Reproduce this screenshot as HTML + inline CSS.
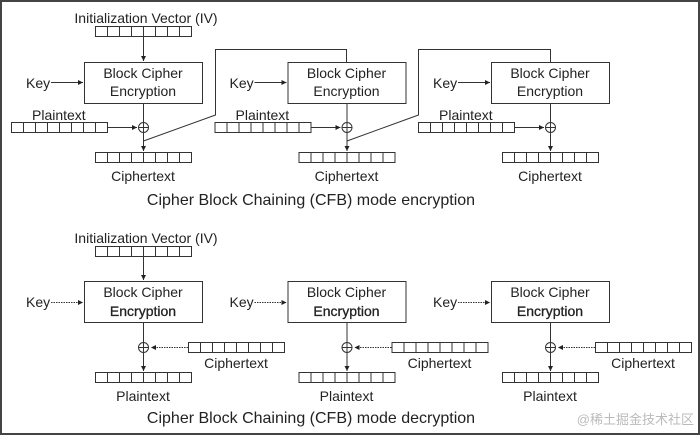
<!DOCTYPE html>
<html><head><meta charset="utf-8"><style>
html,body{margin:0;padding:0;background:#fff}
svg{display:block}
text{font-family:"Liberation Sans","DejaVu Sans",sans-serif;fill:#222}
</style></head><body>
<svg width="700" height="435" viewBox="0 0 700 435" xmlns="http://www.w3.org/2000/svg">
<defs>
<g id="reg"><rect x="0.5" y="0.5" width="96" height="10" fill="#fff" stroke="#333" stroke-width="1"/>
<path d="M12.5 0.5V10.5M24.5 0.5V10.5M36.5 0.5V10.5M48.5 0.5V10.5M60.5 0.5V10.5M72.5 0.5V10.5M84.5 0.5V10.5" stroke="#333" stroke-width="1"/></g>
<marker id="ah" markerWidth="6" markerHeight="6" refX="5" refY="3" orient="auto" markerUnits="userSpaceOnUse"><path d="M0,0.5 L5,3 L0,5.5z" fill="#222"/></marker>
<g id="xor"><circle r="5" fill="#fff" stroke="#333"/><path d="M-5 0H5M0 -5V5" stroke="#333"/></g>
</defs>
<rect x="1" y="1" width="698" height="433" fill="none" stroke="#444" stroke-width="2"/>

<!-- ENCRYPTION -->
<text x="146" y="23" font-size="14" text-anchor="middle">Initialization Vector (IV)</text>
<use href="#reg" x="95" y="26"/>
<line x1="143.5" y1="37" x2="143.5" y2="61" stroke="#333" marker-end="url(#ah)"/>
<g id="encstage">
<rect x="84.5" y="62.5" width="118" height="41" fill="#fff" stroke="#333"/>
<text x="143" y="78" font-size="14" text-anchor="middle">Block Cipher</text>
<text x="143" y="96" font-size="14" text-anchor="middle">Encryption</text>
<text x="26" y="88" font-size="14">Key</text>
<line x1="51" y1="82.5" x2="83" y2="82.5" stroke="#333" marker-end="url(#ah)"/>
<text x="32" y="120" font-size="14">Plaintext</text>
<use href="#reg" x="11" y="122"/>
<line x1="107" y1="127.5" x2="137" y2="127.5" stroke="#333" marker-end="url(#ah)"/>
<line x1="143.5" y1="104" x2="143.5" y2="151" stroke="#333" marker-end="url(#ah)"/>
<use href="#xor" x="143.5" y="127.5"/>
<use href="#reg" x="95" y="152"/>
<text x="143" y="181" font-size="14" text-anchor="middle">Ciphertext</text>
</g>
<use href="#encstage" x="203.5"/>
<use href="#encstage" x="407"/>
<polyline points="143.5,141 215.5,115 215.5,49.5 346.5,49.5 346.5,62" fill="none" stroke="#333"/>
<polyline points="347,141 418.5,115 418.5,49.5 550.5,49.5 550.5,62" fill="none" stroke="#333"/>
<text x="311" y="205" font-size="16" text-anchor="middle">Cipher Block Chaining (CFB) mode encryption</text>

<!-- DECRYPTION -->
<text x="146" y="243" font-size="14" text-anchor="middle">Initialization Vector (IV)</text>
<use href="#reg" x="95" y="246"/>
<line x1="143.5" y1="257" x2="143.5" y2="280" stroke="#333" marker-end="url(#ah)"/>
<g id="decstage">
<rect x="84.5" y="281.5" width="118" height="41" fill="#fff" stroke="#333"/>
<text x="143" y="297" font-size="14" text-anchor="middle">Block Cipher</text>
<text x="143" y="316" font-size="14" text-anchor="middle" style="font-weight:500;stroke:#222;stroke-width:0.3">Encryption</text>
<text x="26" y="307" font-size="14">Key</text>
<line x1="51" y1="302.5" x2="83" y2="302.5" stroke="#333" stroke-dasharray="1.5 1" marker-end="url(#ah)"/>
<line x1="143.5" y1="323" x2="143.5" y2="371" stroke="#333" marker-end="url(#ah)"/>
<use href="#xor" x="143.5" y="347.5"/>
<use href="#reg" x="188" y="342"/>
<line x1="188" y1="347.5" x2="151" y2="347.5" stroke="#333" stroke-dasharray="1.5 1" marker-end="url(#ah)"/>
<text x="236" y="368" font-size="14" text-anchor="middle">Ciphertext</text>
<use href="#reg" x="95" y="372"/>
<text x="143" y="401" font-size="14" text-anchor="middle">Plaintext</text>
</g>
<use href="#decstage" x="203.5"/>
<use href="#decstage" x="407"/>
<text x="311" y="423" font-size="16" text-anchor="middle">Cipher Block Chaining (CFB) mode decryption</text>
<text x="694" y="424" font-size="13" text-anchor="end" style="fill:#bbb;font-family:'Liberation Sans','Noto Sans CJK SC',sans-serif">@稀土掘金技术社区</text>
</svg>
</body></html>
